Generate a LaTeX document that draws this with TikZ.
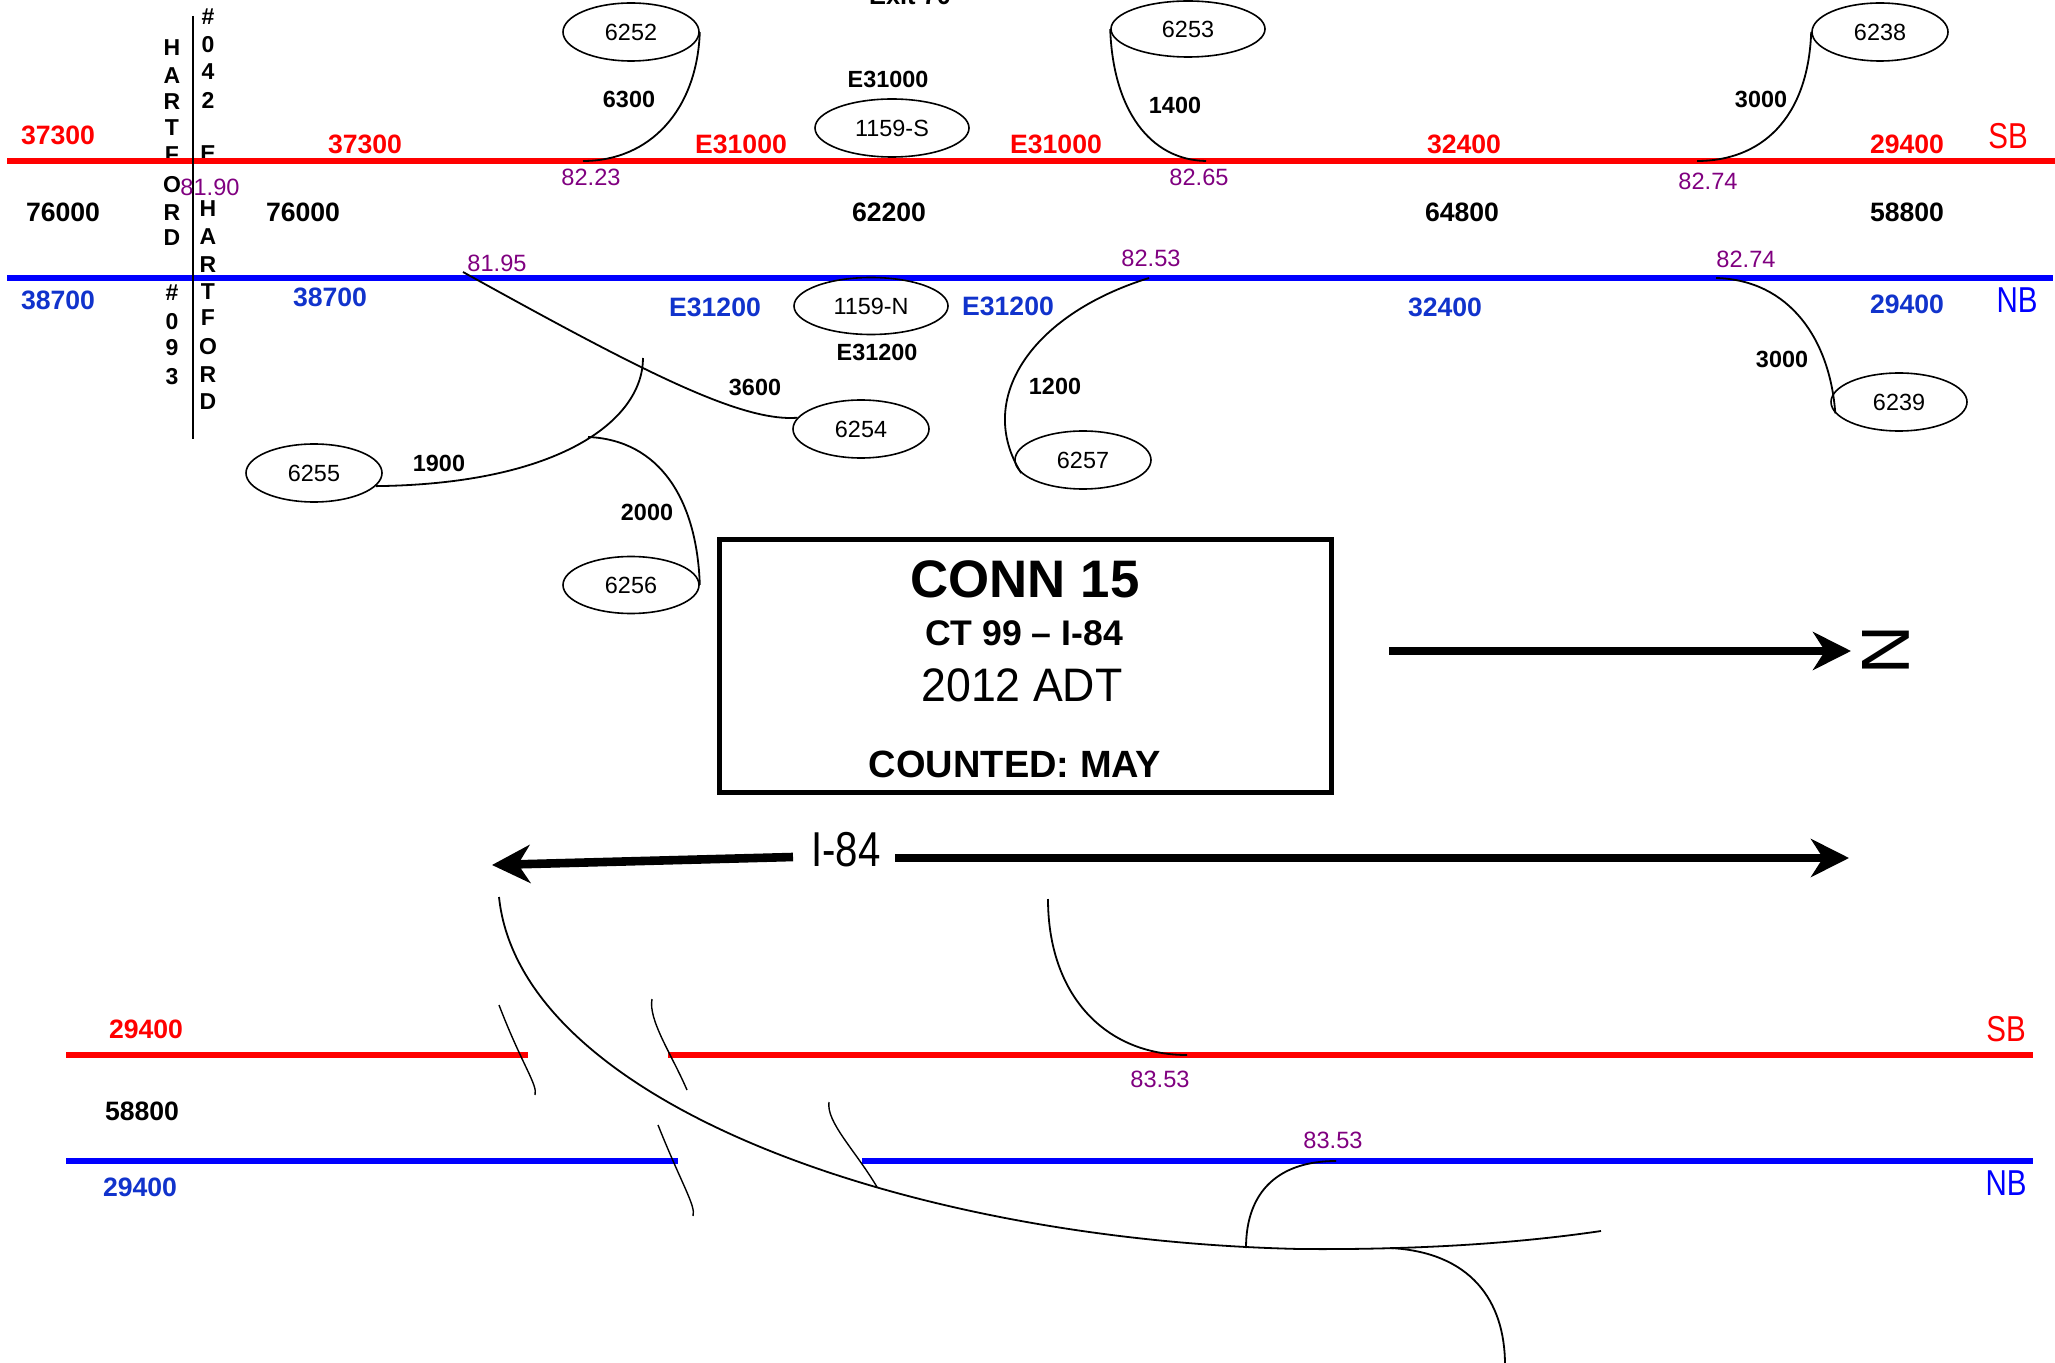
\documentclass[tikz,border=0pt]{standalone}
\usepackage{fontspec}
\setmainfont{Liberation Sans}
\newfontfamily\narrowfont[FakeStretch=0.82]{Liberation Sans}
\newfontfamily\adtfont[FakeStretch=0.95]{Liberation Sans}
\usetikzlibrary{shapes.geometric,arrows.meta}
\definecolor{sbred}{RGB}{255,0,0}
\definecolor{nbblue}{RGB}{0,0,255}
\definecolor{bluetxt}{RGB}{17,51,204}
\definecolor{mppurple}{RGB}{128,0,128}
\tikzset{
  road/.style={line width=3pt},
  sbline/.style={road,draw=sbred},
  nbline/.style={road,draw=nbblue},
  ramp/.style={line width=0.9pt,draw=black},
  tickmark/.style={line width=0.7pt,draw=black},
  station/.style={ellipse,draw,line width=0.8pt,minimum width=68pt,minimum height=29pt,inner sep=0pt,font=\fontsize{11.7}{14}\selectfont},
  bignum/.style={inner sep=0pt,font=\bfseries\fontsize{13.3}{16}\selectfont},
  sbnum/.style={bignum,text=sbred},
  nbnum/.style={bignum,text=bluetxt},
  totnum/.style={bignum,text=black},
  ramplbl/.style={inner sep=0pt,font=\bfseries\fontsize{11.7}{14}\selectfont},
  mp/.style={inner sep=0pt,text=mppurple,font=\fontsize{11.8}{14}\selectfont},
  letter/.style={inner sep=0pt,font=\bfseries\fontsize{11.5}{13.5}\selectfont},
  dirlbl/.style={inner sep=0pt,font=\narrowfont\fontsize{18}{21}\selectfont},
  bigarrow/.style={line width=4.3pt,-{Stealth[length=19pt,width=19pt,inset=6pt]}}
}
\begin{document}
\begin{tikzpicture}[x=0.5pt,y=-0.5pt]
\useasboundingbox (0,0) rectangle (2055,1363);
\fill[white] (0,0) rectangle (2055,1363);

% ---------- Hartford letter columns ----------
\foreach \c/\y [count=\i] in {H/48,A/76,R/102,T/128,F/155,O/185,R/213,D/238,\#/293,0/322,9/348,3/377}
  \node[letter] (hl\i) at (172,\y) {\c};
\foreach \c/\y [count=\i] in {\#/17,0/45,4/72,2/100,E/154,H/209,A/237,R/265,T/292,F/318,O/347,R/375,D/402}
  \node[letter] (hr\i) at (208,\y) {\c};

% ---------- top roads ----------
\coordinate (sbL) at (7,161);   \coordinate (sbR) at (2055,161);
\coordinate (nbL) at (7,278);   \coordinate (nbR) at (2053,278);
\draw[sbline] (sbL) -- (sbR);
\draw[nbline] (nbL) -- (nbR);
\coordinate (vT) at (193,16); \coordinate (vB) at (193,439);
\draw[line width=0.8pt] (vT) -- (vB);

% ---------- top labels ----------
\node (exit) [anchor=base,inner sep=0pt,font=\bfseries\fontsize{12.7}{15}\selectfont] at (910,5) {Exit 70};

\node[sbnum] (s1) at (58,135) {37300};
\node[sbnum] (s2) at (365,144) {37300};
\node[sbnum] (s3) at (741,144) {E31000};
\node[sbnum] (s4) at (1056,144) {E31000};
\node[sbnum] (s5) at (1464,144) {32400};
\node[sbnum] (s6) at (1907,144) {29400};
\node[dirlbl,text=sbred] (sbt) at (2008,136) {SB};

\node[totnum] (t1) at (63,212) {76000};
\node[totnum] (t2) at (303,212) {76000};
\node[totnum] (t3) at (889,212) {62200};
\node[totnum] (t4) at (1462,212) {64800};
\node[totnum] (t5) at (1907,212) {58800};

\node[nbnum] (n1) at (58,300) {38700};
\node[nbnum] (n2) at (330,297) {38700};
\node[nbnum] (n3) at (715,307) {E31200};
\node[nbnum] (n4) at (1008,306) {E31200};
\node[nbnum] (n5) at (1445,307) {32400};
\node[nbnum] (n6) at (1907,304) {29400};
\node[dirlbl,text=nbblue] (nbt) at (2017,300) {NB};

\node[mp] (m1) at (210,187) {81.90};
\node[mp] (m2) at (591,177) {82.23};
\node[mp] (m3) at (497,263) {81.95};
\node[mp] (m4) at (1199,177) {82.65};
\node[mp] (m5) at (1151,258) {82.53};
\node[mp] (m6) at (1708,181) {82.74};
\node[mp] (m7) at (1746,259) {82.74};

% ---------- stations ----------
\node[station] (e6252) at (631,32) {6252};
\node[station,minimum width=77pt,minimum height=28pt] (e6253) at (1188,29) {6253};
\node[station] (e6238) at (1880,32) {6238};
\node[station,minimum width=77pt] (e1159S) at (892,128) {1159-S};
\node[station,minimum width=77pt,minimum height=28.5pt] (e1159N) at (871,306) {1159-N};
\node[station] (e6254) at (861,429) {6254};
\node[station] (e6257) at (1083,460) {6257};
\node[station] (e6239) at (1899,402) {6239};
\node[station] (e6255) at (314,473) {6255};
\node[station,minimum height=28.5pt] (e6256) at (631,585) {6256};

% ---------- ramp labels ----------
\node[ramplbl] (r1) at (629,99) {6300};
\node[ramplbl] (r2) at (1175,105) {1400};
\node[ramplbl] (r3) at (1761,99) {3000};
\node[ramplbl] (r4) at (888,79) {E31000};
\node[ramplbl] (r5) at (877,352) {E31200};
\node[ramplbl] (r6) at (755,387) {3600};
\node[ramplbl] (r7) at (1055,386) {1200};
\node[ramplbl] (r8) at (1782,359) {3000};
\node[ramplbl] (r9) at (439,463) {1900};
\node[ramplbl] (r10) at (647,512) {2000};

% ---------- top ramps ----------
\coordinate (j6252) at (583,161);
\coordinate (j6253) at (1206,161);
\coordinate (j6238) at (1697,161);
\coordinate (j6254) at (463,272);
\coordinate (j6257) at (1149,278);
\coordinate (j6239) at (1716,278);
\coordinate (k1) at (643,358);
\coordinate (k2) at (588,437);
\draw[ramp] (e6252.east) .. controls (697,110) and (650,161) .. (j6252);
\draw[ramp] (e6253.west) .. controls (1113,110) and (1150,160) .. (j6253);
\draw[ramp] (e6238.west) .. controls (1808,120) and (1760,161) .. (j6238);
\draw[ramp] (j6254) .. controls (640,370) and (740,422) .. (e6254.170);
\draw[ramp] (j6257) .. controls (1030,315) and (975,400) .. (e6257.192);
\draw[ramp] (j6239) .. controls (1790,280) and (1830,340) .. (e6239.190);
\draw[ramp] (e6255.-12) .. controls (560,484) and (643,420) .. (k1);
\draw[ramp] (k2) .. controls (660,440) and (697,500) .. (e6256.east);

% ---------- title box ----------
\node[draw,line width=2.5pt,minimum width=306pt,minimum height=126pt,inner sep=0pt] (titlebox) at (1025,666) {};
\node[inner sep=0pt,font=\bfseries\fontsize{26.4}{30}\selectfont] (tt1) at (1025,579) {CONN 15};
\node[inner sep=0pt,font=\bfseries\fontsize{17.8}{21}\selectfont] (tt2) at (1024,633) {CT 99 – I-84};
\node[inner sep=0pt,font=\adtfont\fontsize{23.5}{27}\selectfont] (tt3) at (1022,685) {2012 ADT};
\node[inner sep=0pt,font=\bfseries\fontsize{19}{22}\selectfont] (tt4) at (1015,764) {COUNTED: MAY};

% ---------- north arrow ----------
\coordinate (nA) at (1389,651); \coordinate (nZ) at (1851,651);
\draw[bigarrow] (nA) -- (nZ);
\node[inner sep=0pt,rotate=-90,font=\fontsize{34}{38}\selectfont] (north) at (1886,650) {N};

% ---------- I-84 arrows ----------
\node[inner sep=0pt,font=\narrowfont\fontsize{24.5}{28}\selectfont] (i84) at (846,850) {I-84};
\coordinate (iL0) at (793,857); \coordinate (iL1) at (492,865);
\coordinate (iR0) at (895,858); \coordinate (iR1) at (1849,858);
\draw[bigarrow] (iL0) -- (iL1);
\draw[bigarrow] (iR0) -- (iR1);

% ---------- bottom roads ----------
\coordinate (bs1) at (66,1055); \coordinate (bs2) at (528,1055);
\coordinate (bs3) at (668,1055); \coordinate (bs4) at (2033,1055);
\coordinate (bn1) at (66,1161); \coordinate (bn2) at (678,1161);
\coordinate (bn3) at (862,1161); \coordinate (bn4) at (2033,1161);
\draw[sbline] (bs1) -- (bs2);
\draw[sbline] (bs3) -- (bs4);
\draw[nbline] (bn1) -- (bn2);
\draw[nbline] (bn3) -- (bn4);

\node[sbnum] (bsn) at (146,1029) {29400};
\node[totnum] (btn) at (142,1111) {58800};
\node[nbnum] (bnn) at (140,1187) {29400};
\node[dirlbl,text=sbred] (bsb) at (2006,1029) {SB};
\node[dirlbl,text=nbblue] (bnb) at (2006,1183) {NB};
\node[mp] (m8) at (1160,1079) {83.53};
\node[mp] (m9) at (1333,1140) {83.53};

% ---------- bottom ramps ----------
\coordinate (b1) at (499,897);
\coordinate (b2) at (1300,1249);
\coordinate (b3) at (1601,1231);
\draw[ramp] (b1) .. controls (520,1100) and (900,1240) .. (b2) .. controls (1420,1250) and (1520,1243) .. (b3);
\coordinate (u1) at (1246,1248); \coordinate (u2) at (1336,1161);
\draw[ramp] (u1) .. controls (1246,1190) and (1280,1161) .. (u2);
\coordinate (d1) at (1390,1248); \coordinate (d2) at (1505,1365);
\draw[ramp] (d1) .. controls (1470,1252) and (1505,1300) .. (d2);
\coordinate (s83a) at (1048,899); \coordinate (s83b) at (1187,1055);
\draw[ramp] (s83a) .. controls (1048,995) and (1105,1055) .. (s83b);

% ---------- bridge ticks ----------
\coordinate (ta1) at (499,1005); \coordinate (ta2) at (535,1095);
\coordinate (tb1) at (652,999);  \coordinate (tb2) at (687,1090);
\coordinate (tc1) at (658,1125); \coordinate (tc2) at (693,1216);
\coordinate (td1) at (829,1102); \coordinate (td2) at (877,1187);
\draw[tickmark] (ta1) .. controls (522,1065) and (538,1085) .. (ta2);
\draw[tickmark] (tb1) .. controls (648,1020) and (672,1055) .. (tb2);
\draw[tickmark] (tc1) .. controls (682,1185) and (696,1206) .. (tc2);
\draw[tickmark] (td1) .. controls (826,1122) and (855,1150) .. (td2);
\end{tikzpicture}
\end{document}
